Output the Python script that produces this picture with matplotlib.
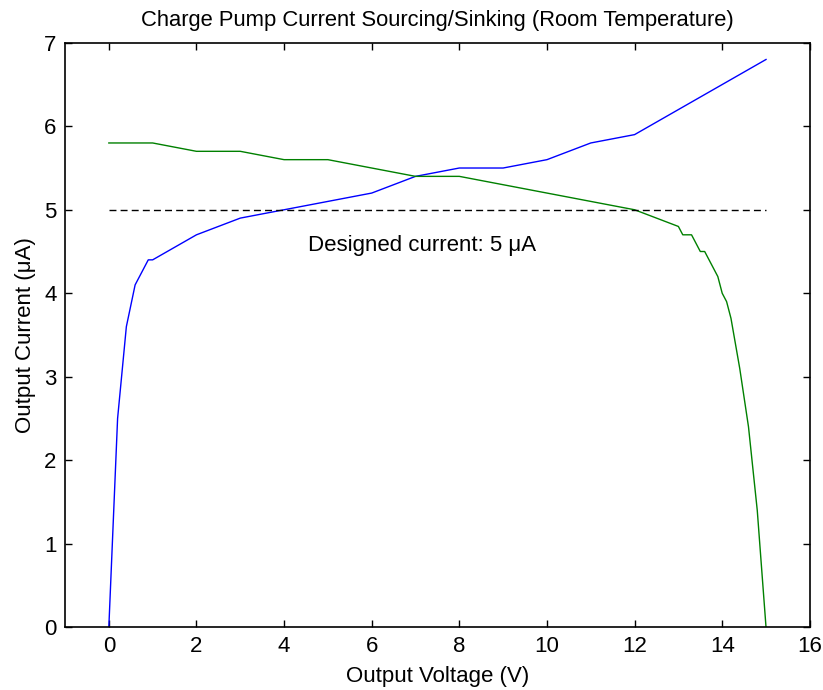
import numpy as np
import matplotlib
matplotlib.use('Agg')
import matplotlib.pyplot as plt

plt.rcParams['font.family'] = ['Liberation Sans', 'DejaVu Sans']

# sourcing current (blue)
v_src = [0, 0.2, 0.4, 0.6, 0.8, 0.9, 1, 2, 3, 4, 5, 6, 7, 8, 9, 10, 11, 12, 13, 14, 15]
i_src = [0, 2.5, 3.6, 4.1, 4.3, 4.4, 4.4, 4.7, 4.9, 5.0, 5.1, 5.2, 5.4, 5.5, 5.5, 5.6, 5.8, 5.9, 6.2, 6.5, 6.8]

# sinking current (green)
v_snk = [0, 1, 2, 3, 4, 5, 6, 7, 8, 9, 10, 11, 12, 13, 13.1, 13.2, 13.3, 13.4, 13.5, 13.6,
         13.7, 13.8, 13.9, 14.0, 14.1, 14.2, 14.3, 14.4, 14.5, 14.6, 14.7, 14.8, 14.9, 15]
i_snk = [5.8, 5.8, 5.7, 5.7, 5.6, 5.6, 5.5, 5.4, 5.4, 5.3, 5.2, 5.1, 5.0, 4.8, 4.7, 4.7, 4.7, 4.6, 4.5, 4.5,
         4.4, 4.3, 4.2, 4.0, 3.9, 3.7, 3.4, 3.1, 2.75, 2.4, 1.9, 1.4, 0.7, 0]

design_v = [0, 15]
design_i = [5, 5]

fig = plt.figure(figsize=(8.23, 6.9), dpi=100)
ax = fig.add_axes([0.079, 0.091, 0.905, 0.847])

ax.plot(v_src, i_src, color='#0000ff', lw=1.0)
ax.plot(v_snk, i_snk, color='#008000', lw=1.0)
ax.plot(design_v, design_i, 'k--', lw=1.0, dashes=(5, 3))
ax.text(4.55, 4.57, 'Designed current: 5 μA', fontsize=16, va='center')

ax.set_xlim(-1, 16)
ax.set_ylim(0, 7)
ax.set_xticks(np.arange(0, 17, 2))
ax.set_yticks(np.arange(0, 8, 1))
ax.tick_params(direction='in', top=True, right=True, length=5, width=1, labelsize=16, pad=6)
for s in ax.spines.values():
    s.set_linewidth(1.2)

ax.set_title('Charge Pump Current Sourcing/Sinking (Room Temperature)', fontsize=15.8, pad=12)
ax.set_xlabel('Output Voltage (V)', fontsize=16, labelpad=7)
ax.set_ylabel('Output Current (μA)', fontsize=16, labelpad=6)

fig.savefig('out.png', dpi=100)
